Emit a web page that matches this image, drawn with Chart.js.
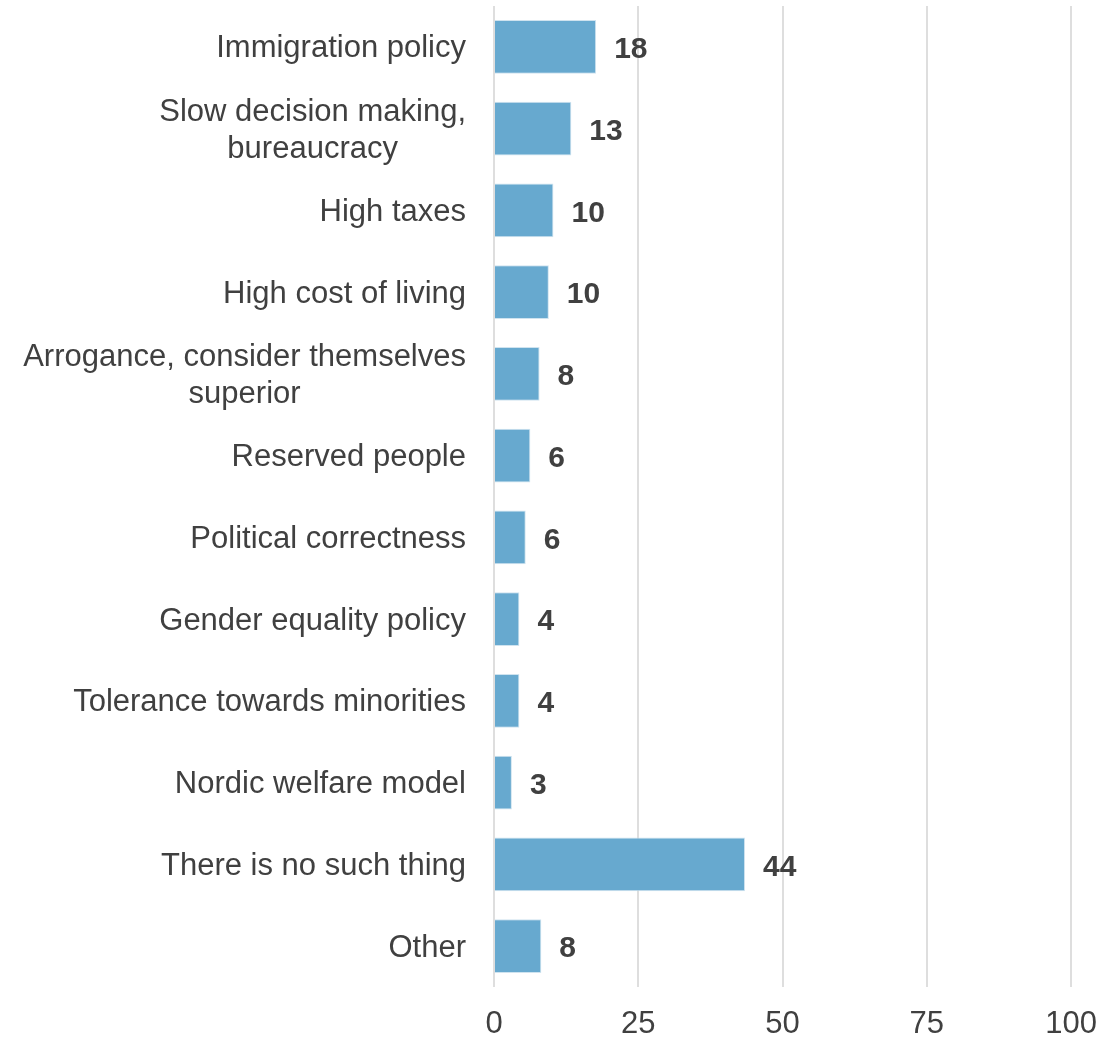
<!DOCTYPE html>
<html lang="en">
<head>
    <meta charset="UTF-8">
    <title>Dislikes</title>
    <style>
        body {
            margin: 0;
            background: #fff;
        }
        .chart-box {
            width: 1119px;
            height: 1038px;
        }
    </style>
    <script src="https://cdn.jsdelivr.net/npm/chart.js"></script>
</head>
<body>
    <div class="chart-box">
        <canvas id="dislikeChart" width="1119" height="1038"></canvas>
    </div>

    <script>
        // Categories (multi-line ones split into arrays)
        const categories = [
            'Immigration policy',
            ['Slow decision making,', 'bureaucracy'],
            'High taxes',
            'High cost of living',
            ['Arrogance, consider themselves', 'superior'],
            'Reserved people',
            'Political correctness',
            'Gender equality policy',
            'Tolerance towards minorities',
            'Nordic welfare model',
            'There is no such thing',
            'Other'
        ];

        // Share of answers (%)
        const shares = [17.7, 13.4, 10.3, 9.5, 7.9, 6.3, 5.5, 4.4, 4.4, 3.1, 43.5, 8.2];

        const xTicks = [0, 25, 50, 75, 100];

        const textColor = '#404040';
        const fontFamily = '"Liberation Sans", Arial, sans-serif';

        // Category labels: block right-aligned to the axis, lines centred inside the block
        const categoryLabels = {
            id: 'categoryLabels',
            afterDraw(chart) {
                const ctx = chart.ctx;
                const yScale = chart.scales.y;
                const right = chart.chartArea.left - 28;
                const lineH = 37;
                ctx.save();
                ctx.font = '31px ' + fontFamily;
                ctx.fillStyle = textColor;
                ctx.textAlign = 'center';
                ctx.textBaseline = 'middle';
                categories.forEach((cat, i) => {
                    const lines = Array.isArray(cat) ? cat : [cat];
                    const w = Math.max(...lines.map(l => ctx.measureText(l).width));
                    const cx = right - w / 2;
                    const cy = yScale.getPixelForTick(i) + 2;
                    lines.forEach((l, j) => {
                        ctx.fillText(l, cx, cy + (j - (lines.length - 1) / 2) * lineH);
                    });
                });
                ctx.restore();
            }
        };

        // Value labels just past the end of each bar
        const valueLabels = {
            id: 'valueLabels',
            afterDatasetsDraw(chart) {
                const ctx = chart.ctx;
                const meta = chart.getDatasetMeta(0);
                ctx.save();
                ctx.font = 'bold 30px ' + fontFamily;
                ctx.fillStyle = textColor;
                ctx.textAlign = 'left';
                ctx.textBaseline = 'middle';
                meta.data.forEach((bar, i) => {
                    ctx.fillText(Math.round(shares[i]), bar.x + 18, bar.y + 3);
                });
                ctx.restore();
            }
        };

        new Chart(document.getElementById('dislikeChart'), {
            type: 'bar',
            data: {
                labels: categories,
                datasets: [{
                    data: shares,
                    backgroundColor: '#67a9cf',
                    borderColor: '#cfe3ef',
                    borderWidth: 1,
                    barPercentage: 0.66,
                    categoryPercentage: 1
                }]
            },
            options: {
                indexAxis: 'y',
                responsive: false,
                animation: false,
                layout: {
                    padding: { top: 6, left: 494, right: 47, bottom: 0 }
                },
                plugins: {
                    legend: { display: false },
                    tooltip: { enabled: false }
                },
                scales: {
                    x: {
                        min: 0,
                        max: 100,
                        afterBuildTicks(scale) {
                            scale.ticks = xTicks.map(v => ({ value: v }));
                        },
                        afterFit(scale) {
                            scale.height = 51;
                        },
                        grid: {
                            color: '#dedede',
                            lineWidth: 2,
                            drawTicks: false
                        },
                        border: { display: false },
                        ticks: {
                            color: textColor,
                            padding: 22,
                            font: { family: fontFamily, size: 31, lineHeight: 1 }
                        }
                    },
                    y: {
                        display: false
                    }
                }
            },
            plugins: [categoryLabels, valueLabels]
        });
    </script>
</body>
</html>
